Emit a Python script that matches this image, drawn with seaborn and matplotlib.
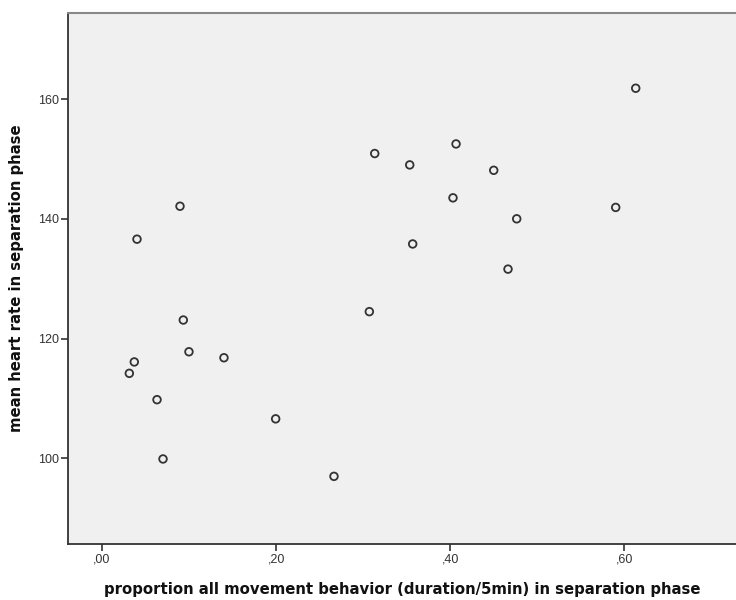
import matplotlib
matplotlib.use("Agg")
import matplotlib.pyplot as plt
import seaborn as sns
import pandas as pd
from matplotlib.ticker import FixedLocator, FuncFormatter

movement = [0.0896, 0.0402, 0.0934, 0.0999, 0.1401, 0.0371, 0.0314, 0.0632, 0.0701,
            0.3133, 0.3071, 0.1995, 0.2665, 0.4067, 0.3535, 0.4500, 0.4032, 0.4764,
            0.3569, 0.4664, 0.6131, 0.5901]
heart_rate = [142.1, 136.6, 123.1, 117.8, 116.8, 116.1, 114.2, 109.8, 99.9,
              150.9, 124.5, 106.6, 97.0, 152.5, 149.0, 148.1, 143.5, 140.0,
              135.8, 131.6, 161.8, 141.9]
x_ticks = [0.0, 0.2, 0.4, 0.6]
y_ticks = [100, 120, 140, 160]
x_label = "proportion all movement behavior (duration/5min) in separation phase"
y_label = "mean heart rate in separation phase"

df = pd.DataFrame({"x": movement, "y": heart_rate})

sns.set_style("white")
plt.rcParams["font.family"] = ["Liberation Sans", "DejaVu Sans"]

fig = plt.figure(figsize=(7.36, 6.0), dpi=100)
ax = fig.add_axes([0.0928, 0.0933, 1 - 0.0928, 0.9783 - 0.0933])
ax.set_facecolor("#F0F0F0")

sns.scatterplot(data=df, x="x", y="y", ax=ax, marker="o", s=30,
                facecolor="none", edgecolor="#333333", linewidth=1.3)

ax.set_xlim(-0.0387, 0.7283)
ax.set_ylim(85.7, 174.36)
ax.xaxis.set_major_locator(FixedLocator(x_ticks))
ax.yaxis.set_major_locator(FixedLocator(y_ticks))
ax.xaxis.set_major_formatter(FuncFormatter(lambda v, p: ("%.2f" % v).replace("0.", ",", 1)))
ax.yaxis.set_major_formatter(FuncFormatter(lambda v, p: "%d" % v))

ax.tick_params(axis="both", direction="out", length=5, width=1.2, color="#333333",
               labelsize=9, labelcolor="#333333", pad=2, bottom=True, left=True)

for side in ["left", "bottom"]:
    ax.spines[side].set_color("#333333")
    ax.spines[side].set_linewidth(1.3)
ax.spines["top"].set_color("#888888")
ax.spines["top"].set_linewidth(1.5)
ax.spines["right"].set_visible(False)

ax.set_xlabel(x_label, fontsize=10.7, fontweight="bold", family="DejaVu Sans",
              color="#111111", labelpad=12)
ax.set_ylabel(y_label, fontsize=10.7, fontweight="bold", family="DejaVu Sans",
              color="#111111", labelpad=10)

fig.savefig("out.png", dpi=100)
